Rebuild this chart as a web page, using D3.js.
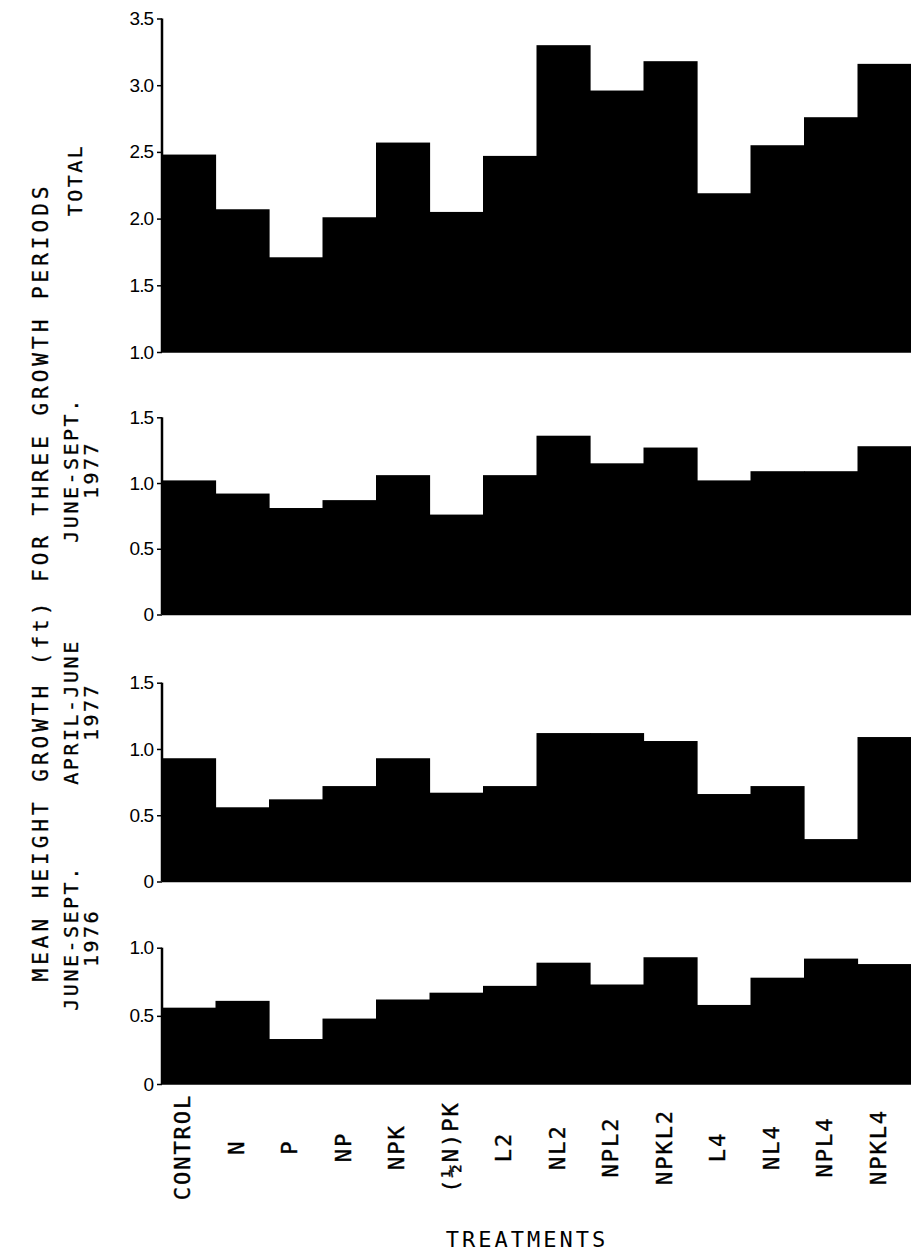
<!DOCTYPE html>
<html>
<head>
<meta charset="utf-8">
<script src="https://cdn.jsdelivr.net/npm/d3@7/dist/d3.min.js"></script>
<style>
  html, body { margin: 0; padding: 0; background: #fff; }
  svg { display: block; }
</style>
</head>
<body>
<svg id="chart" width="911" height="1254"></svg>
<script>
// ---------- data ----------
const categories = ["CONTROL", "N", "P", "NP", "NPK", "(½N)PK", "L2", "NL2", "NPL2", "NPKL2", "L4", "NL4", "NPL4", "NPKL4"];
const totalValues      = [2.48, 2.07, 1.71, 2.01, 2.57, 2.05, 2.47, 3.30, 2.96, 3.18, 2.19, 2.55, 2.76, 3.16];
const juneSept1977     = [1.02, 0.92, 0.81, 0.87, 1.06, 0.76, 1.06, 1.36, 1.15, 1.27, 1.02, 1.09, 1.09, 1.28];
const aprilJune1977    = [0.93, 0.56, 0.62, 0.72, 0.93, 0.67, 0.72, 1.12, 1.12, 1.06, 0.66, 0.72, 0.32, 1.09];
const juneSept1976     = [0.56, 0.61, 0.33, 0.48, 0.62, 0.67, 0.72, 0.89, 0.73, 0.93, 0.58, 0.78, 0.92, 0.88];
const ticksTotal = [1.0, 1.5, 2.0, 2.5, 3.0, 3.5];
const ticks15    = [0, 0.5, 1.0, 1.5];
const ticks10    = [0, 0.5, 1.0];
const panelLabels = [["TOTAL"], ["JUNE-SEPT.", "1977"], ["APRIL-JUNE", "1977"], ["JUNE-SEPT.", "1976"]];
const yTitle = "MEAN HEIGHT GROWTH (ft) FOR THREE GROWTH PERIODS";
const xTitle = "TREATMENTS";

// ---------- layout ----------
const svg = d3.select("#chart");
const axisX = 162, rightX = 911;
const x = d3.scaleBand().domain(categories).range([axisX, rightX]).paddingInner(0).paddingOuter(0);

const panels = [
  { values: totalValues,   domain: [1, 3.5], range: [352, 18.5],   ticks: ticksTotal, labelY: 180 },
  { values: juneSept1977,  domain: [0, 1.5], range: [614.5, 417.3], ticks: ticks15,   labelY: 470 },
  { values: aprilJune1977, domain: [0, 1.5], range: [881.5, 682.7], ticks: ticks15,   labelY: 712 },
  { values: juneSept1976,  domain: [0, 1.0], range: [1084, 947.7], ticks: ticks10,   labelY: 938 }
];

const fmt = v => v === 0 ? "0" : d3.format(".1f")(v);
const mono = "'DejaVu Sans Mono', 'Liberation Mono', monospace";

panels.forEach((p, i) => {
  const y = d3.scaleLinear().domain(p.domain).range(p.range);
  const g = svg.append("g");
  // bars
  g.selectAll("rect").data(p.values).enter().append("rect")
    .attr("x", (d, j) => x(categories[j]))
    .attr("width", x.bandwidth() + 0.6)
    .attr("y", d => y(d))
    .attr("height", d => y(p.domain[0]) - y(d))
    .attr("fill", "#000");
  // axis
  const axis = d3.axisLeft(y).tickValues(p.ticks).tickFormat(fmt).tickSize(5).tickPadding(4);
  const ag = g.append("g").attr("transform", `translate(${axisX},0)`).call(axis);
  ag.select(".domain").attr("stroke", "#000").attr("stroke-width", 2.5)
    .attr("d", `M0,${p.range[1]}V${p.range[0]}`);
  ag.selectAll(".tick line").attr("stroke", "#000").attr("stroke-width", 1.5);
  ag.selectAll(".tick text")
    .attr("fill", "#000")
    .style("font-family", "'Liberation Sans', Arial, sans-serif")
    .style("font-size", "19px")
    .style("letter-spacing", "-1px");
  // baseline
  g.append("line").attr("x1", axisX).attr("x2", rightX)
    .attr("y1", y(p.domain[0])).attr("y2", y(p.domain[0]))
    .attr("stroke", "#000").attr("stroke-width", 1.5);

  // panel label (rotated)
  const lines = panelLabels[i];
  const lx = lines.length === 1 ? [75] : [71, 91];
  lines.forEach((t, k) => {
    svg.append("text")
      .attr("transform", `translate(${lx[k]},${p.labelY}) rotate(-90)`)
      .attr("text-anchor", "middle")
      .attr("dominant-baseline", "central")
      .style("font-family", mono)
      .style("font-size", "20px")
      .style("letter-spacing", "2.5px")
      .attr("fill", "#000")
      .attr("stroke", "#000").attr("stroke-width", 0.3)
      .text(t);
  });
});

// y title
svg.append("text")
  .attr("transform", `translate(41,582) rotate(-90)`)
  .attr("text-anchor", "middle")
  .attr("dominant-baseline", "central")
  .style("font-family", mono)
  .style("font-size", "21px")
  .style("letter-spacing", "4px")
  .attr("fill", "#000")
  .attr("stroke", "#000").attr("stroke-width", 0.3)
  .text(yTitle);

// category labels
svg.append("g").selectAll("text").data(categories).enter().append("text")
  .attr("transform", d => `translate(${x(d) + x.bandwidth() / 2 - 6},1147) rotate(-90)`)
  .attr("text-anchor", "middle")
  .attr("dominant-baseline", "central")
  .style("font-family", mono)
  .style("font-size", "22px")
  .style("letter-spacing", "2px")
  .attr("fill", "#000")
  .attr("stroke", "#000").attr("stroke-width", 0.4)
  .text(d => d);

// x title
svg.append("text")
  .attr("x", 527).attr("y", 1247)
  .attr("text-anchor", "middle")
  .style("font-family", mono)
  .style("font-size", "22px")
  .style("letter-spacing", "3px")
  .attr("fill", "#000")
  .text(xTitle);
</script>
</body>
</html>
